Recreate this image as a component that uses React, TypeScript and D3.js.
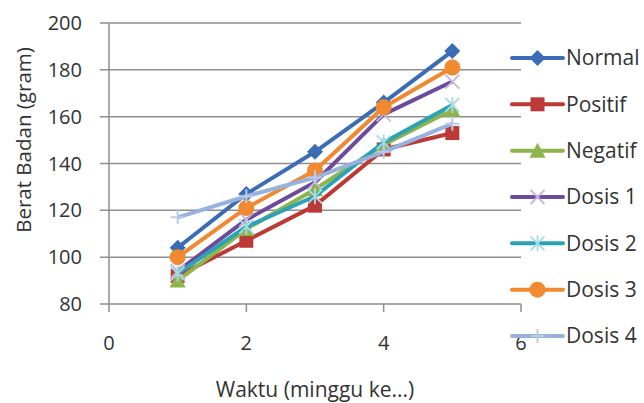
import React from "react";
import * as d3 from "d3";

const weeks = [1, 2, 3, 4, 5];
const normal = [104, 127, 145, 166, 188];
const positif = [92, 107, 122, 146, 153];
const negatif = [90, 112, 129, 148, 163];
const dosis1 = [94, 116, 132, 161, 175];
const dosis2 = [93, 113, 126, 149, 165];
const dosis3 = [100, 121, 137, 164, 181];
const dosis4 = [117, 126, 134, 145, 157];

const seriesNames = ["Normal", "Positif", "Negatif", "Dosis 1", "Dosis 2", "Dosis 3", "Dosis 4"];
const seriesValues = [normal, positif, negatif, dosis1, dosis2, dosis3, dosis4];
const seriesColors = ["#3b6db5", "#bb3a36", "#8db54b", "#6d4b9c", "#2ba2b8", "#f0892f", "#98b2de"];
const markerColors = ["#3b6db5", "#bb3a36", "#8db54b", "#c7b6e0", "#a6dbe6", "#f0892f", "#b9cbe9"];
const markerTypes = ["diamond", "square", "triangle", "x", "star", "circle", "plus"];

const xTicks = [0, 2, 4, 6];
const yTicks = [80, 100, 120, 140, 160, 180, 200];

const FONT = "'Open Sans', sans-serif";
const TEXT = "#333333";
const GRID = "#8e8e8e";

function Marker({ type, x, y, color }: { type: string; x: number; y: number; color: string }) {
  const s = 7;
  switch (type) {
    case "diamond":
      return <path d={`M${x},${y - s - 1}L${x + s + 1},${y}L${x},${y + s + 1}L${x - s - 1},${y}Z`} fill={color} />;
    case "square":
      return <rect x={x - s} y={y - s} width={2 * s} height={2 * s} fill={color} />;
    case "triangle":
      return <path d={`M${x},${y - s - 1}L${x + s + 1},${y + s}L${x - s - 1},${y + s}Z`} fill={color} />;
    case "circle":
      return <circle cx={x} cy={y} r={s + 1} fill={color} />;
    case "x":
      return (
        <path d={`M${x - s},${y - s}L${x + s},${y + s}M${x - s},${y + s}L${x + s},${y - s}`} stroke={color} strokeWidth={1.8} />
      );
    case "star":
      return (
        <path
          d={`M${x - s},${y - s}L${x + s},${y + s}M${x - s},${y + s}L${x + s},${y - s}M${x},${y - s - 1}L${x},${y + s + 1}`}
          stroke={color}
          strokeWidth={1.8}
        />
      );
    case "plus":
      return <path d={`M${x - s},${y}L${x + s},${y}M${x},${y - s}L${x},${y + s}`} stroke={color} strokeWidth={2} />;
    default:
      return null;
  }
}

export default function App() {
  const x = d3.scaleLinear().domain([0, 6]).range([109, 521]);
  const y = d3.scaleLinear().domain([80, 200]).range([304, 23]);
  const line = d3
    .line<number>()
    .x((_, i) => x(weeks[i]))
    .y((d) => y(d));

  const legendY = d3.scaleLinear().domain([0, 6]).range([58, 336]);

  return (
    <svg width={644} height={403} style={{ position: "absolute", left: 0, top: 0, background: "#fff" }}>
      {yTicks.map((t) => (
        <line key={"g" + t} x1={100} x2={521} y1={y(t)} y2={y(t)} stroke={GRID} strokeWidth={1.5} />
      ))}
      <line x1={x(0)} x2={x(0)} y1={y(200)} y2={y(80)} stroke={GRID} strokeWidth={1.5} />
      {xTicks.map((t) => (
        <line key={"xt" + t} x1={x(t)} x2={x(t)} y1={y(80)} y2={y(80) + 8} stroke={GRID} strokeWidth={1.5} />
      ))}
      {yTicks.map((t) => (
        <text key={"yl" + t} x={82} y={y(t)} dy="0.35em" textAnchor="end" fontFamily={FONT} fontSize={20} fill={TEXT}>
          {t}
        </text>
      ))}
      {xTicks.map((t) => (
        <text key={"xl" + t} x={x(t)} y={350} textAnchor="middle" fontFamily={FONT} fontSize={20} fill={TEXT}>
          {t}
        </text>
      ))}
      <text x={315} y={397} textAnchor="middle" fontFamily={FONT} fontSize={21} fill={TEXT}>
        Waktu (minggu ke...)
      </text>
      <text
        transform="translate(31,140) rotate(-90)"
        textAnchor="middle"
        fontFamily={FONT}
        fontSize={20.5}
        fill={TEXT}
      >
        Berat Badan (gram)
      </text>
      {seriesValues.map((vals, si) => (
        <g key={"s" + si}>
          <path d={line(vals) || ""} fill="none" stroke={seriesColors[si]} strokeWidth={4} strokeLinejoin="round" />
          {vals.map((v, i) => (
            <Marker key={i} type={markerTypes[si]} x={x(weeks[i])} y={y(v)} color={markerColors[si]} />
          ))}
        </g>
      ))}
      {seriesNames.map((name, si) => {
        const ly = legendY(si);
        return (
          <g key={"l" + si}>
            <line x1={512} x2={563} y1={ly} y2={ly} stroke={seriesColors[si]} strokeWidth={4} strokeLinecap="round" />
            <Marker type={markerTypes[si]} x={537.5} y={ly} color={markerColors[si]} />
            <text x={566} y={ly} dy="0.35em" fontFamily={FONT} fontSize={21} fill={TEXT}>
              {name}
            </text>
          </g>
        );
      })}
    </svg>
  );
}
